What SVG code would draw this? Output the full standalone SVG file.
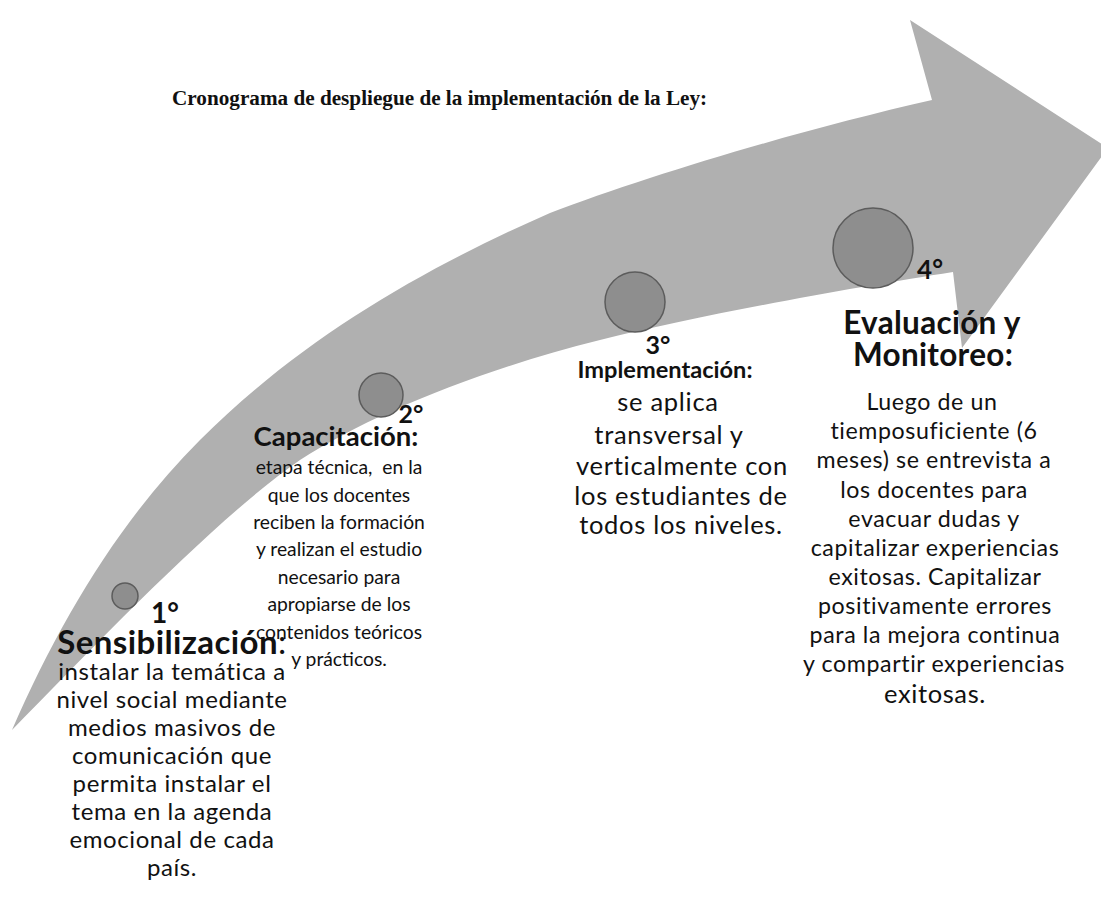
<svg xmlns="http://www.w3.org/2000/svg" width="1101" height="897" viewBox="0 0 1101 897">
<defs>
<style>
.title{font-family:"Liberation Serif","Times New Roman",serif;font-weight:bold;font-size:21.2px;fill:#111}
.t{font-family:Lato,"Open Sans","Liberation Sans",sans-serif;fill:#111;text-anchor:middle}
.b{font-weight:bold}
.dot{fill:#8e8e8e;stroke:#5c5c5c;stroke-width:1.5}
.shape{fill:#b0b0b0}
</style>
</defs>
<rect width="1101" height="897" fill="#ffffff"/>
<g id="arrow">
<path class="shape" d="M12,730 C60,620 120,520 200,440 C300,340 420,270 550,213 C650,175 800,130 932,100 L910,20 L1108,148 L962,348 L953,272 C850,288 700,315 600,340 C480,370 370,415 300,460 C220,515 100,640 12,730 Z"/>
</g>
<g id="title"><text class="title" x="172" y="105">Cronograma de despliegue de la implementación de la Ley:</text></g>
<g id="step1">
<circle class="dot" cx="125" cy="596" r="13"/>
<text class="t b" x="165" y="623" font-size="28">1°</text>
<text class="t" x="172" y="654" font-size="33" letter-spacing="0.4"><tspan class="b">Sensibilización</tspan>:</text>
<g class="t" font-size="24" letter-spacing="0.6">
<text x="172" y="680">instalar la temática a</text>
<text x="172" y="708">nivel social mediante</text>
<text x="172" y="736">medios masivos de</text>
<text x="172" y="764">comunicación que</text>
<text x="172" y="792">permita instalar el</text>
<text x="172" y="820">tema en la agenda</text>
<text x="172" y="848">emocional de cada</text>
<text x="172" y="876">país.</text>
</g>
</g>
<g id="step2">
<circle class="dot" cx="381" cy="395" r="22"/>
<text class="t b" x="411" y="423" font-size="25">2°</text>
<text class="t b" x="336" y="446" font-size="27.5">Capacitación:</text>
<g class="t" font-size="19.3">
<text x="339" y="474" xml:space="preserve">etapa técnica,  en la</text>
<text x="339" y="502">que los docentes</text>
<text x="339" y="529">reciben la formación</text>
<text x="339" y="556">y realizan el estudio</text>
<text x="339" y="584">necesario para</text>
<text x="339" y="611">apropiarse de los</text>
<text x="339" y="639">contenidos teóricos</text>
<text x="339" y="666">y prácticos.</text>
</g>
</g>
<g id="step3">
<circle class="dot" cx="635" cy="302" r="30"/>
<text class="t b" x="658" y="354" font-size="25">3°</text>
<text class="t b" x="665" y="378" font-size="23.6">Implementación:</text>
<g class="t" font-size="25.5" letter-spacing="0.7">
<text x="668" y="411">se aplica</text>
<text x="669" y="444">transversal y</text>
<text x="682" y="475">verticalmente con</text>
<text x="681" y="505">los estudiantes de</text>
<text x="681" y="534">todos los niveles.</text>
</g>
</g>
<g id="step4">
<circle class="dot" cx="873" cy="248" r="40"/>
<text class="t b" x="930" y="279" font-size="26">4°</text>
<text class="t b" x="932" y="334" font-size="31.5" letter-spacing="0.3">Evaluación y</text>
<text class="t b" x="933" y="366" font-size="31.5" letter-spacing="0.3">Monitoreo:</text>
<g class="t" font-size="23.2" letter-spacing="0.6">
<text x="932" y="410">Luego de un</text>
<text x="934" y="439">tiemposuficiente (6</text>
<text x="934" y="468">meses) se entrevista a</text>
<text x="934" y="498">los docentes para</text>
<text x="934" y="527">evacuar dudas y</text>
<text x="935" y="556">capitalizar experiencias</text>
<text x="935" y="585">exitosas. Capitalizar</text>
<text x="935" y="614">positivamente errores</text>
<text x="935" y="643">para la mejora continua</text>
<text x="934" y="672">y compartir experiencias</text>
<text x="935" y="703" font-size="25.5">exitosas.</text>
</g>
</g>
</svg>
